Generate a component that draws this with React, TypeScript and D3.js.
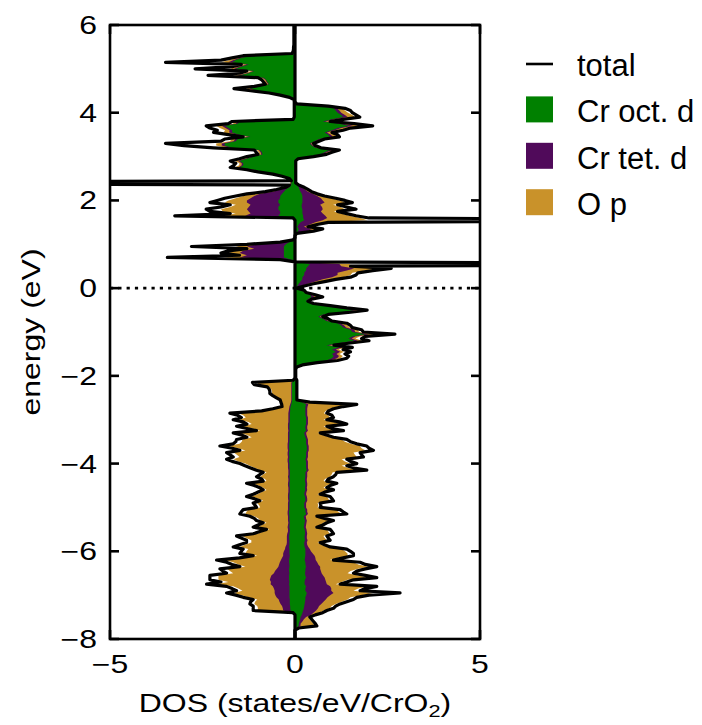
import React from 'react';
import * as d3 from 'd3';

// energy grid: 6.00 eV down to -8.00 eV, 0.05 eV sampling (281 points)
const E_TOP = 6;
const E_STEP = 0.05;
const N_POINTS = 281;

// spin-down channel (drawn to the left), states/eV/CrO2
const dnTot = [
0.03,0.03,0.03,0.03,0.03,0.03,0.03,0.03,0.03,0.03,0.04,0.04,0.05,0.08,1.4,1.7,2.0,3.5,1.45,1.7,
2.7,1.3,1.5,2.35,1.0,0.9,0.85,0.8,1.1,1.65,1.2,0.7,0.4,0.15,0.03,0.02,0.02,0.02,0.02,0.02,
0.02,0.02,0.02,0.05,1.7,1.8,2.4,2.3,2.1,2.2,1.8,1.4,1.9,2.0,3.5,3.0,2.2,1.1,1.05,1.0,
1.3,1.5,1.75,1.6,1.65,1.75,1.3,1.0,0.6,0.35,0.15,0.1,14,0.15,0.25,0.5,0.8,1.3,1.6,1.9,
2.1,2.3,1.75,2.0,2.4,2.3,1.75,3.25,0.05,0,0,0,0,0,0,0,0,0,0.05,0.4,
1.3,2.8,1.3,1.8,2.0,1.5,3.45,0.4,0,0,0,0,0,0,0,0,0,0,0,0,
0,0,0,0,0,0,0,0,0,0,0,0,0,0,0,0,0,0,0,0,
0,0,0,0,0,0,0,0,0,0,0,0,0,0,0,0,0,0,0,0,
0,0,0.05,1.15,1.1,0.75,0.7,0.68,0.68,0.6,0.5,0.4,0.38,0.36,0.35,0.6,0.9,1.76,1.55,1.45,
1.67,1.4,1.3,1.58,1.3,1.04,1.67,1.45,1.3,1.58,1.6,1.67,2.03,1.7,1.49,1.85,1.75,1.67,1.85,1.7,
1.49,1.35,1.2,1.04,0.86,0.95,1.04,0.9,0.86,1.31,1.1,0.95,0.86,1.0,1.13,1.31,1.1,0.95,1.13,1.08,
1.04,1.4,1.45,1.49,1.22,1.1,1.04,0.86,1.0,1.13,0.77,0.95,1.13,1.58,1.45,1.31,1.31,1.5,1.67,1.4,
1.45,1.49,1.13,1.5,2.12,1.85,1.7,1.49,2.03,1.95,1.85,2.3,2.3,2.3,2.0,2.39,1.85,1.7,1.58,1.85,
1.6,1.4,1.13,1.2,1.22,1.13,1.13,1.13,0.05,0,0,0,0,0,0,0,0,0,0,0,
0];

const dnOct = [
0.02,0.02,0.02,0.02,0.02,0.02,0.02,0.02,0.02,0.02,0.02,0.02,0.02,0.06,1.2,1.45,1.6,1.7,1.25,1.45,
1.6,1.1,1.25,1.5,0.85,0.78,0.75,0.7,0.95,1.2,1.0,0.6,0.35,0.12,0.02,0.02,0.02,0.02,0.02,0.02,
0.02,0.02,0.02,0.04,1.5,1.55,1.9,1.8,1.7,1.7,1.5,1.2,1.55,1.6,1.9,1.9,1.7,0.95,0.9,0.88,
1.1,1.3,1.5,1.4,1.4,1.5,1.1,0.85,0.5,0.3,0.12,0.08,0.1,0.1,0.15,0.25,0.3,0.35,0.4,0.4,
0.45,0.45,0.4,0.45,0.45,0.4,0.4,0.45,0.03,0,0,0,0,0,0,0,0,0,0.02,0.15,
0.25,0.3,0.3,0.3,0.3,0.3,0.3,0.1,0,0,0,0,0,0,0,0,0,0,0,0,
0,0,0,0,0,0,0,0,0,0,0,0,0,0,0,0,0,0,0,0,
0,0,0,0,0,0,0,0,0,0,0,0,0,0,0,0,0,0,0,0,
0,0,0.02,0.08,0.08,0.08,0.08,0.08,0.08,0.08,0.08,0.08,0.09,0.1,0.12,0.13,0.13,0.14,0.14,0.14,
0.14,0.14,0.15,0.15,0.15,0.14,0.15,0.15,0.15,0.15,0.15,0.16,0.16,0.16,0.15,0.16,0.16,0.15,0.16,0.16,
0.15,0.15,0.15,0.14,0.14,0.14,0.15,0.14,0.14,0.15,0.15,0.14,0.14,0.14,0.15,0.15,0.15,0.14,0.15,0.15,
0.15,0.15,0.16,0.16,0.15,0.15,0.15,0.14,0.15,0.15,0.14,0.14,0.15,0.16,0.16,0.15,0.15,0.15,0.16,0.15,
0.15,0.15,0.14,0.15,0.16,0.16,0.15,0.15,0.16,0.16,0.15,0.16,0.16,0.16,0.15,0.16,0.15,0.15,0.15,0.15,
0.15,0.15,0.14,0.14,0.14,0.13,0.13,0.12,0.03,0,0,0,0,0,0,0,0,0,0,0,
0];

const dnTet = [
0,0,0,0,0,0,0,0,0,0,0,0,0,0,0.04,0.05,0.06,0.1,0.05,0.06,
0.05,0.03,0.04,0.05,0.03,0.02,0.02,0.02,0.03,0.04,0.03,0.02,0.01,0,0,0,0,0,0,0,
0,0,0,0,0.04,0.05,0.08,0.08,0.07,0.08,0.06,0.04,0.06,0.06,0.08,0.08,0.06,0.03,0.03,0.03,
0.03,0.04,0.04,0.04,0.04,0.04,0.03,0.03,0.02,0.01,0.01,0.01,0.02,0.03,0.06,0.15,0.3,0.6,0.7,0.8,
0.85,0.85,0.8,0.8,0.85,0.85,0.8,0.9,0.01,0,0,0,0,0,0,0,0,0,0,0.2,
0.8,1.0,0.8,1.1,1.2,1.0,1.2,0.2,0,0,0,0,0,0,0,0,0,0,0,0,
0,0,0,0,0,0,0,0,0,0,0,0,0,0,0,0,0,0,0,0,
0,0,0,0,0,0,0,0,0,0,0,0,0,0,0,0,0,0,0,0,
0,0,0,0.02,0.02,0.02,0.02,0.02,0.02,0.02,0.02,0.02,0.02,0.03,0.03,0.03,0.04,0.04,0.04,0.04,
0.04,0.04,0.04,0.04,0.04,0.04,0.04,0.04,0.04,0.04,0.04,0.04,0.04,0.04,0.04,0.04,0.04,0.04,0.04,0.04,
0.04,0.04,0.04,0.04,0.04,0.04,0.04,0.04,0.04,0.04,0.04,0.04,0.04,0.04,0.04,0.04,0.04,0.04,0.04,0.04,
0.04,0.04,0.04,0.04,0.04,0.04,0.04,0.04,0.04,0.05,0.05,0.05,0.06,0.06,0.06,0.07,0.07,0.08,0.1,0.12,
0.15,0.17,0.18,0.2,0.22,0.25,0.28,0.3,0.33,0.38,0.42,0.48,0.5,0.52,0.5,0.5,0.45,0.42,0.4,0.4,
0.38,0.35,0.3,0.28,0.25,0.22,0.2,0.2,0.01,0,0,0,0,0,0,0,0,0,0,0,
0];

const dnOp = [
0,0,0,0,0,0,0,0,0,0,0,0,0,0,0.06,0.08,0.1,0.2,0.08,0.08,
0.1,0.06,0.08,0.1,0.05,0.04,0.04,0.04,0.05,0.08,0.06,0.04,0.02,0.01,0,0,0,0,0,0,
0,0,0,0,0.06,0.08,0.15,0.15,0.12,0.15,0.1,0.06,0.1,0.1,0.15,0.15,0.1,0.05,0.05,0.05,
0.05,0.06,0.08,0.06,0.07,0.08,0.05,0.04,0.03,0.02,0.01,0.01,0.02,0.01,0.02,0.05,0.1,0.2,0.3,0.4,
0.5,0.6,0.4,0.5,0.7,0.7,0.4,0.6,0.01,0,0,0,0,0,0,0,0,0,0,0.03,
0.15,0.3,0.15,0.25,0.3,0.15,0.4,0.05,0,0,0,0,0,0,0,0,0,0,0,0,
0,0,0,0,0,0,0,0,0,0,0,0,0,0,0,0,0,0,0,0,
0,0,0,0,0,0,0,0,0,0,0,0,0,0,0,0,0,0,0,0,
0,0,0,0.9,0.9,0.6,0.55,0.52,0.52,0.45,0.36,0.27,0.24,0.2,0.17,0.38,0.65,1.35,1.22,1.15,
1.32,1.08,0.98,1.23,0.98,0.76,1.31,1.11,0.98,1.23,1.25,1.3,1.63,1.33,1.15,1.46,1.37,1.31,1.46,1.33,
1.15,1.03,0.89,0.76,0.59,0.68,0.75,0.63,0.59,0.99,0.8,0.68,0.59,0.72,0.83,0.99,0.8,0.68,0.83,0.78,
0.75,1.07,1.11,1.14,0.91,0.8,0.75,0.59,0.71,0.82,0.5,0.67,0.81,1.2,1.09,0.96,0.96,1.12,1.24,0.99,
1.01,1.02,0.7,1.0,1.53,1.26,1.1,0.89,1.34,1.22,1.1,1.43,1.41,1.39,1.15,1.49,1.07,0.96,0.87,1.12,
0.91,0.76,0.58,0.66,0.71,0.67,0.67,0.7,0.01,0,0,0,0,0,0,0,0,0,0,0,
0];

// spin-up channel (drawn to the right)
const upTot = [
0,0,0,0,0,0,0,0,0,0,0,0,0,0,0,0,0,0,0,0,
0,0,0,0,0,0,0,0,0,0,0,0,0,0,0,0,0.05,0.9,1.35,1.5,
1.55,1.65,1.75,1.3,0.95,1.6,2.1,1.5,1.3,1.0,1.15,1.2,0.8,0.65,0.5,0.55,0.7,1.2,1.0,0.85,
0.5,0.08,0.02,0.02,0.02,0.02,0.02,0.02,0.02,0.02,0.02,0.02,0.02,0.1,0.25,0.35,0.45,0.6,0.8,1.1,
1.35,1.55,1.15,1.4,1.65,1.15,1.4,1.65,2.0,14,0.9,0.6,0.35,0.75,0.5,0.05,0,0,0,0,
0,0,0,0,0,0,0,0,0,14,1.5,2.6,2.1,1.7,1.65,1.5,1.1,0.8,0.5,0.25,
0.05,0.25,0.3,0.55,0.75,0.45,0.35,0.5,0.95,1.4,1.95,1.5,0.9,0.75,0.9,1.0,1.4,1.5,1.55,1.8,
1.85,2.7,1.9,1.8,2.0,1.5,1.05,1.55,1.3,1.5,1.35,1.45,1.4,1.15,0.6,0.2,0.05,0.02,0.02,0.02,
0.02,0.02,0.05,0.05,0.05,0.05,0.05,0.05,0.05,0.05,0.05,0.05,0.4,1.67,1.3,1.04,0.9,0.86,1.0,1.04,
0.86,1.2,1.4,0.86,1.0,1.31,0.68,0.85,1.04,1.4,1.5,1.67,1.94,2.0,2.12,1.76,1.8,1.85,1.4,1.5,
1.67,1.4,1.6,1.94,1.13,1.1,1.04,0.9,0.86,1.13,0.95,0.86,1.04,0.8,0.68,0.95,1.0,1.04,0.68,0.7,
0.68,1.22,1.3,1.4,0.59,0.8,1.04,0.86,0.75,0.59,0.95,1.0,1.04,0.86,0.9,0.95,0.68,0.8,0.95,1.4,
1.5,1.58,1.58,1.3,1.04,1.76,1.9,2.21,1.9,1.67,1.58,1.9,2.21,1.58,1.4,1.22,2.21,1.9,1.76,2.84,
2.0,1.67,1.58,1.4,1.22,1.1,1.04,0.86,0.75,0.55,0.4,0.45,0.5,0.55,0.59,0.1,0,0,0,0,
0];

const upOct = [
0,0,0,0,0,0,0,0,0,0,0,0,0,0,0,0,0,0,0,0,
0,0,0,0,0,0,0,0,0,0,0,0,0,0,0,0,0.04,0.75,1.05,1.1,
1.15,1.25,1.3,1.0,0.75,1.2,1.45,1.15,1.0,0.8,0.9,0.95,0.65,0.52,0.4,0.45,0.55,0.95,0.8,0.68,
0.4,0.06,0.02,0.02,0.02,0.02,0.02,0.02,0.02,0.02,0.02,0.02,0.02,0.05,0.1,0.12,0.15,0.18,0.2,0.2,
0.2,0.2,0.18,0.18,0.2,0.2,0.2,0.22,0.22,0.25,0.15,0.1,0.06,0.1,0.08,0.02,0,0,0,0,
0,0,0,0,0,0,0,0,0,0.4,0.35,0.3,0.3,0.25,0.25,0.2,0.2,0.15,0.1,0.06,
0.03,0.2,0.25,0.4,0.45,0.35,0.3,0.42,0.8,1.15,1.6,1.25,0.75,0.63,0.75,0.85,1.15,1.25,1.3,1.5,
1.55,1.9,1.55,1.45,1.6,1.2,0.85,1.2,1.0,1.1,1.0,1.05,1.0,0.85,0.45,0.15,0.04,0.02,0.02,0.02,
0.02,0.02,0.04,0.04,0.04,0.04,0.04,0.05,0.05,0.05,0.05,0.05,0.2,0.3,0.28,0.28,0.28,0.28,0.28,0.3,
0.3,0.3,0.3,0.28,0.28,0.3,0.25,0.26,0.28,0.3,0.3,0.3,0.32,0.32,0.32,0.3,0.3,0.3,0.28,0.3,
0.3,0.3,0.3,0.32,0.28,0.28,0.28,0.27,0.27,0.28,0.28,0.27,0.28,0.26,0.25,0.27,0.28,0.28,0.25,0.25,
0.25,0.28,0.28,0.3,0.24,0.25,0.27,0.26,0.25,0.24,0.26,0.27,0.27,0.26,0.26,0.27,0.25,0.25,0.26,0.28,
0.28,0.28,0.28,0.27,0.26,0.28,0.28,0.3,0.28,0.28,0.27,0.28,0.3,0.27,0.26,0.26,0.3,0.28,0.28,0.32,
0.3,0.28,0.28,0.27,0.26,0.25,0.24,0.22,0.2,0.18,0.15,0.14,0.12,0.1,0.1,0.03,0,0,0,0,
0];

const upTet = [
0,0,0,0,0,0,0,0,0,0,0,0,0,0,0,0,0,0,0,0,
0,0,0,0,0,0,0,0,0,0,0,0,0,0,0,0,0,0.04,0.08,0.1,
0.1,0.1,0.12,0.08,0.06,0.1,0.12,0.1,0.08,0.06,0.07,0.07,0.05,0.04,0.03,0.03,0.04,0.07,0.06,0.05,
0.03,0,0,0,0,0,0,0,0,0,0,0,0,0.03,0.1,0.15,0.2,0.3,0.4,0.5,
0.55,0.6,0.5,0.55,0.55,0.5,0.55,0.6,0.65,0.5,0.4,0.3,0.18,0.35,0.25,0.02,0,0,0,0,
0,0,0,0,0,0,0,0,0,0.8,0.9,1.3,1.1,0.9,0.9,0.8,0.55,0.4,0.25,0.1,
0,0.01,0.02,0.04,0.08,0.03,0.02,0.03,0.05,0.08,0.1,0.08,0.05,0.04,0.05,0.05,0.08,0.08,0.08,0.1,
0.08,0.1,0.08,0.08,0.1,0.08,0.06,0.1,0.1,0.12,0.12,0.14,0.14,0.1,0.06,0.02,0,0,0,0,
0,0,0,0,0,0,0,0,0,0,0,0,0.03,0.06,0.06,0.05,0.05,0.05,0.05,0.05,
0.05,0.05,0.05,0.05,0.05,0.05,0.05,0.05,0.05,0.05,0.05,0.05,0.05,0.05,0.05,0.05,0.05,0.05,0.05,0.05,
0.05,0.05,0.05,0.05,0.05,0.05,0.05,0.05,0.05,0.05,0.05,0.05,0.05,0.05,0.05,0.05,0.05,0.05,0.05,0.05,
0.05,0.05,0.05,0.05,0.05,0.05,0.05,0.05,0.05,0.05,0.05,0.05,0.06,0.06,0.06,0.07,0.07,0.08,0.1,0.12,
0.15,0.2,0.25,0.28,0.3,0.32,0.35,0.38,0.4,0.42,0.45,0.48,0.5,0.55,0.58,0.6,0.65,0.7,0.7,0.72,
0.65,0.6,0.55,0.5,0.45,0.4,0.38,0.35,0.3,0.25,0.15,0.1,0.08,0.05,0.05,0.01,0,0,0,0,
0];

const upOp = [
0,0,0,0,0,0,0,0,0,0,0,0,0,0,0,0,0,0,0,0,
0,0,0,0,0,0,0,0,0,0,0,0,0,0,0,0,0,0.06,0.12,0.15,
0.18,0.2,0.2,0.15,0.1,0.18,0.25,0.15,0.14,0.1,0.12,0.12,0.08,0.06,0.05,0.05,0.07,0.12,0.1,0.08,
0.05,0,0,0,0,0,0,0,0,0,0,0,0,0.01,0.03,0.05,0.08,0.1,0.15,0.3,
0.45,0.6,0.35,0.5,0.6,0.35,0.5,0.65,0.9,1.2,0.25,0.15,0.08,0.2,0.12,0.01,0,0,0,0,
0,0,0,0,0,0,0,0,0,0.3,0.2,0.7,0.5,0.4,0.35,0.3,0.2,0.15,0.1,0.05,
0,0.02,0.02,0.06,0.15,0.04,0.02,0.03,0.05,0.08,0.12,0.08,0.05,0.04,0.05,0.05,0.1,0.1,0.1,0.1,
0.1,0.15,0.12,0.1,0.12,0.1,0.06,0.1,0.08,0.1,0.08,0.1,0.1,0.08,0.04,0.01,0,0,0,0,
0,0,0,0,0,0,0,0,0,0,0,0,0.12,1.1,0.85,0.6,0.5,0.45,0.57,0.6,
0.42,0.73,0.91,0.44,0.57,0.83,0.31,0.46,0.61,0.91,1.0,1.15,1.38,1.43,1.54,1.23,1.27,1.32,0.93,1.0,
1.15,0.91,1.09,1.38,0.69,0.66,0.61,0.49,0.45,0.69,0.53,0.45,0.61,0.41,0.31,0.54,0.57,0.61,0.31,0.33,
0.31,0.77,0.84,0.91,0.24,0.42,0.62,0.46,0.38,0.24,0.55,0.58,0.61,0.45,0.49,0.52,0.29,0.39,0.5,0.86,
0.92,0.94,0.89,0.62,0.38,0.98,1.08,1.31,1.03,0.8,0.7,0.95,1.19,0.6,0.42,0.24,1.04,0.73,0.6,1.06,
0.85,0.62,0.59,0.49,0.39,0.34,0.32,0.2,0.18,0.07,0.06,0.16,0.25,0.35,0.38,0.05,0,0,0,0,
0];

const xTicks = [-5, 0, 5];
const yTicks = [-8, -6, -4, -2, 0, 2, 4, 6];
const legendLabels = ['total', 'Cr oct. d', 'Cr tet. d', 'O p'];
const COLORS = { oct: '#008000', tet: '#500a5a', op: '#c9922a', total: '#000000' };

const FONT = "'Liberation Sans', Arial, Helvetica, sans-serif";
const fmt = (v: number) => (v < 0 ? '\u2212' + Math.abs(v) : String(v));

export default function App() {
  const W = 702, H = 725;
  const m = { left: 110, right: 480, top: 25, bottom: 639 };
  const x = d3.scaleLinear().domain([-5, 5]).range([m.left, m.right]);
  const y = d3.scaleLinear().domain([-8, 6]).range([m.bottom, m.top]);

  const energy = d3.range(N_POINTS).map((i) => +(E_TOP - i * E_STEP).toFixed(2));
  const rows = energy.map((e, i) => ({
    e,
    up: { t: upTot[i], c1: upOct[i], c2: upOct[i] + upTet[i], c3: upOct[i] + upTet[i] + upOp[i] },
    dn: { t: dnTot[i], c1: dnOct[i], c2: dnOct[i] + dnTet[i], c3: dnOct[i] + dnTet[i] + dnOp[i] },
  }));

  type Row = typeof rows[number];
  const area = (s: number, key: 'c1' | 'c2' | 'c3') =>
    d3.area<Row>()
      .y((d) => y(d.e))
      .x0(x(0))
      .x1((d) => x(s * (s > 0 ? d.up[key] : d.dn[key])))(rows) || '';
  const line = (s: number) =>
    d3.line<Row>()
      .y((d) => y(d.e))
      .x((d) => x(s * (s > 0 ? d.up.t : d.dn.t)))(rows) || '';

  const SX = 1.28;
  const tickLen = 9;

  return (
    <svg width={W} height={H} style={{ position: 'absolute', left: 0, top: 0, background: '#fff' }}
      fontFamily={FONT}>
      <defs>
        <clipPath id="plotclip">
          <rect x={m.left} y={m.top} width={m.right - m.left} height={m.bottom - m.top} />
        </clipPath>
      </defs>
      <g clipPath="url(#plotclip)">
        {[1, -1].map((s) => (
          <g key={'a' + s}>
            <path d={area(s, 'c3')} fill={COLORS.op} />
            <path d={area(s, 'c2')} fill={COLORS.tet} />
            <path d={area(s, 'c1')} fill={COLORS.oct} />
          </g>
        ))}
        <line x1={m.left} x2={m.right} y1={y(0)} y2={y(0)} stroke="#000" strokeWidth={2.6}
          strokeDasharray="3.2 5.1" />
        {[1, -1].map((s) => (
          <path key={'l' + s} d={line(s)} fill="none" stroke={COLORS.total} strokeWidth={3.2}
            strokeLinejoin="round" />
        ))}
      </g>
      {/* frame */}
      <rect x={m.left} y={m.top} width={m.right - m.left} height={m.bottom - m.top} fill="none"
        stroke="#000" strokeWidth={2.6} />
      {/* ticks */}
      {yTicks.map((v) => (
        <g key={'yt' + v}>
          <line x1={m.left} x2={m.left + tickLen} y1={y(v)} y2={y(v)} stroke="#000" strokeWidth={2.6} />
          <line x1={m.right} x2={m.right - tickLen} y1={y(v)} y2={y(v)} stroke="#000" strokeWidth={2.6} />
          <text transform={`translate(97,${y(v) + 9}) scale(${SX},1)`} textAnchor="end" fontSize={25}>
            {fmt(v)}
          </text>
        </g>
      ))}
      {xTicks.map((v) => (
        <g key={'xt' + v}>
          <line x1={x(v)} x2={x(v)} y1={m.bottom} y2={m.bottom - tickLen} stroke="#000" strokeWidth={2.6} />
          <line x1={x(v)} x2={x(v)} y1={m.top} y2={m.top + tickLen} stroke="#000" strokeWidth={2.6} />
          <text transform={`translate(${x(v)},673) scale(${SX},1)`} textAnchor="middle" fontSize={25}>
            {fmt(v)}
          </text>
        </g>
      ))}
      {/* axis titles */}
      <text transform={`translate(${x(0)},712) scale(${SX},1)`} textAnchor="middle" fontSize={25}>
        <tspan>DOS (states/eV/CrO</tspan>
        <tspan fontSize={17} dy={5}>2</tspan>
        <tspan dy={-5}>)</tspan>
      </text>
      <text transform={`translate(40,${(m.top + m.bottom) / 2}) rotate(-90) scale(${SX},1)`}
        textAnchor="middle" fontSize={25}>
        energy (eV)
      </text>
      {/* legend */}
      {legendLabels.map((lab, i) => {
        const base = 76 + i * 46.4;
        return (
          <g key={lab}>
            {i === 0 ? (
              <line x1={526} x2={553} y1={base - 12} y2={base - 12} stroke="#000" strokeWidth={2.6} />
            ) : (
              <rect x={526} y={base - 26} width={27} height={26}
                fill={i === 1 ? COLORS.oct : i === 2 ? COLORS.tet : COLORS.op} />
            )}
            <text x={577} y={base} fontSize={31}>{lab}</text>
          </g>
        );
      })}
    </svg>
  );
}
